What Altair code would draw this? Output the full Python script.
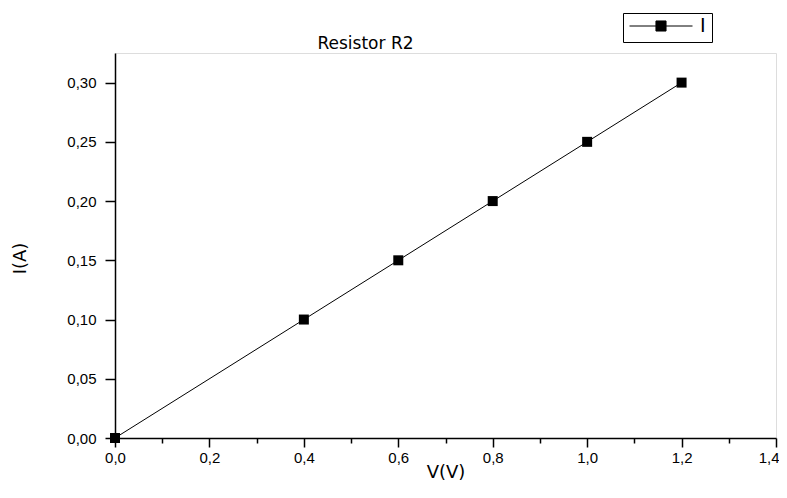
import altair as alt
import pandas as pd

# Data
V = [0.0, 0.4, 0.6, 0.8, 1.0, 1.2]
I = [0.0, 0.10, 0.15, 0.20, 0.25, 0.30]
series = ["I"] * len(V)

x_ticks = [0.0, 0.1, 0.2, 0.3, 0.4, 0.5, 0.6, 0.7, 0.8, 0.9, 1.0, 1.1, 1.2, 1.3, 1.4]
y_ticks = [0.0, 0.025, 0.05, 0.075, 0.10, 0.125, 0.15, 0.175, 0.20, 0.225,
           0.25, 0.275, 0.30, 0.325]

df = pd.DataFrame({"V": V, "I": I, "series": series})

FONT = "Liberation Sans"
AXFONT = "DejaVu Sans"

x_major = "round(datum.value*10) % 2 == 0"
y_major = "round(datum.value*40) % 2 == 0"

x_axis = alt.Axis(
    values=x_ticks,
    title="V(V)",
    titleFont=AXFONT, titleFontSize=18, titleFontWeight="normal", titleColor="black",
    titleBaseline="alphabetic", titleY=39,
    labelExpr=f"{x_major} ? replace(format(datum.value, '.1f'), '.', ',') : ''",
    labelFont=FONT, labelFontSize=15, labelColor="black", labelPadding=3,
    labelFlush=False, labelOverlap=False,
    labelAlign={"condition": {"test": "datum.value > 1.39", "value": "right"}, "value": "center"},
    labelOffset={"condition": {"test": "datum.value > 1.39", "value": 3}, "value": 0},
    tickSize={"condition": {"test": x_major, "value": 9}, "value": 5},
    tickColor="black", tickWidth=1.5,
    domainColor="black", domainWidth=1.5,
    grid=False,
)

y_axis = alt.Axis(
    values=y_ticks,
    title="I(A)",
    titleFont=AXFONT, titleFontSize=18, titleFontWeight="normal", titleColor="black",
    titleAngle=270, titleAlign="center", titleBaseline="alphabetic",
    titleX=-90, titleY=205,
    labelExpr=f"{y_major} ? replace(format(datum.value, '.2f'), '.', ',') : ''",
    labelFont=FONT, labelFontSize=15, labelColor="black", labelPadding=9,
    labelFlush=False, labelOverlap=False,
    tickSize={"condition": {"test": y_major, "value": 10}, "value": 4},
    tickColor="black", tickWidth=1.5,
    domainColor="black", domainWidth=1.5,
    grid=False,
)

legend_symbol = "M-1,0L-0.16,0M0.16,0L1,0M-0.16,-0.16L0.16,-0.16L0.16,0.16L-0.16,0.16Z"

legend = alt.Legend(
    title=None,
    orient="none", legendX=508, legendY=-40,
    symbolType=legend_symbol, symbolSize=3969,
    symbolFillColor="black", symbolStrokeColor="black", symbolStrokeWidth=1,
    symbolOpacity=1,
    clipHeight=14,
    labelFont=AXFONT, labelFontSize=19, labelColor="black", labelOffset=7,
    strokeColor="black", fillColor="white", padding=6,
)

xs = alt.Scale(domain=[0, 1.4], nice=False, zero=False)
ys = alt.Scale(domain=[0, 0.325], nice=False, zero=False)
cs = alt.Scale(range=["black"])

base = alt.Chart(df)

line = base.mark_line(strokeWidth=1).encode(
    x=alt.X("V:Q", scale=xs, axis=x_axis),
    y=alt.Y("I:Q", scale=ys, axis=y_axis),
    color=alt.Color("series:N", scale=cs, legend=legend),
)

points = base.mark_point(shape="square", filled=True, size=100, opacity=1).encode(
    x=alt.X("V:Q", scale=xs),
    y=alt.Y("I:Q", scale=ys),
    color=alt.Color("series:N", scale=cs, legend=legend),
)

chart = (line + points).properties(
    width=661, height=385,
    autosize=alt.AutoSizeParams(type="none"),
    padding={"left": 107, "top": 45, "right": 3, "bottom": 44},
    title=alt.TitleParams(
        "Resistor R2", font=AXFONT, fontSize=17, fontWeight="normal", color="black",
        anchor="middle", frame="group", dx=-80, dy=56, baseline="alphabetic", offset=3,
    ),
).configure_view(stroke=None).configure(background="white")

chart.save("out.html", embed_options={"renderer": "svg", "actions": False})
